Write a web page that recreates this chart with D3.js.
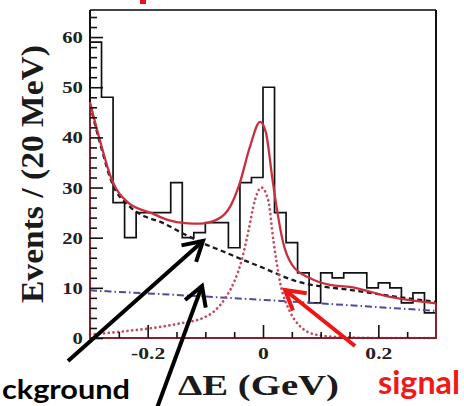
<!DOCTYPE html>
<html><head><meta charset="utf-8">
<script src="https://cdn.jsdelivr.net/npm/d3@7"></script>
<style>html,body{margin:0;padding:0;background:#fff;}svg{display:block;}</style>
</head><body>
<svg id="c" width="464" height="406"></svg>
<script>
// ---- data ----
const binLow = [-0.30,-0.28,-0.26,-0.24,-0.22,-0.20,-0.18,-0.16,-0.14,-0.12,-0.10,-0.08,-0.06,-0.04,-0.02,
                 0.00, 0.02, 0.04, 0.06, 0.08, 0.10, 0.12, 0.14, 0.16, 0.18, 0.20, 0.22, 0.24, 0.26, 0.28];
const binWidth = 0.02;
const counts = [59,48,27,20,25,25,25,31,20,21,23,23,18,31,32,50,25,19,13,7,13,12,13,13,10,11,10,7,9,5];

// total fit (solid red)
const fitX = [-0.300,-0.283,-0.262,-0.234,-0.193,-0.164,-0.135,-0.110,-0.080,-0.057,-0.040,-0.023,-0.005,0.005,0.016,0.023,0.035,0.051,0.082,0.116,0.151,0.220,0.300];
const fitY = [47,39.5,31.5,27,24.9,23.5,22.9,22.8,23.6,26.2,31,38,43.1,41,32,26.5,19,14.5,11.9,10.6,10.2,8.2,6.9];
// total background (black dashed)
const bkgX = [-0.300,-0.283,-0.262,-0.231,-0.200,-0.179,-0.140,-0.104,-0.070,-0.035,0.000,0.024,0.058,0.100,0.151,0.220,0.300];
const bkgY = [46.5,39,31,26.2,24,23.2,20.9,18.9,17.3,15.6,14.0,12.8,11.3,10.3,9.6,8.4,7.2];
// signal (red dotted)
const sigX = [-0.300,-0.269,-0.220,-0.176,-0.140,-0.106,-0.085,-0.064,-0.050,-0.037,-0.025,-0.014,-0.003,0.009,0.018,0.030,0.047,0.062,0.076,0.100,0.140,0.200,0.300];
const sigY = [0.7,1.0,1.6,2.25,3.0,3.9,5.3,8.2,11.2,15.5,21.5,27.5,30.0,27.5,19.5,10.9,5.2,2.6,1.3,0.5,0.15,0.0,0.0];
// second background component (blue dash-dot)
const bbX = [-0.300,0.000,0.300];
const bbY = [9.5,7.6,5.4];

const yMajor = [0,10,20,30,40,50,60];
const yMinor = [2,4,6,8,12,14,16,18,22,24,26,28,32,34,36,38,42,44,46,48,52,54,56,58,62,64];
const xMajor = [-0.2,0,0.2];
const xMajorLabels = ["-0.2","0","0.2"];
const xMinor = [-0.25,-0.15,-0.1,-0.05,0.05,0.1,0.15,0.25];

const yTitle = "Events / (20 MeV)";
const xTitle = "\u0394E (GeV)";

// ---- drawing ----
const svg = d3.select("#c");
const x = d3.scaleLinear().domain([-0.3,0.3]).range([90,436]);
const y = d3.scaleLinear().domain([0,65.4]).range([338,10]);
const serif = "'Liberation Serif','DejaVu Serif',serif";
const sans = "Lato,'Open Sans','Liberation Sans',sans-serif";

// small red fragment of a cut-off title at the top
svg.append("rect").attr("x",140).attr("y",0).attr("width",6).attr("height",4).attr("fill","#e8141a");

// frame
svg.append("line").attr("x1",x(-0.3)).attr("x2",x(0.3)).attr("y1",y(65.4)).attr("y2",y(65.4))
   .attr("stroke","#444").attr("stroke-width",2.2);
svg.append("line").attr("x1",x(0.3)).attr("x2",x(0.3)).attr("y1",y(65.4)).attr("y2",y(0))
   .attr("stroke","#111").attr("stroke-width",2);
svg.append("line").attr("x1",x(-0.3)).attr("x2",x(-0.3)).attr("y1",y(65.4)).attr("y2",y(0))
   .attr("stroke","#111").attr("stroke-width",2);
svg.append("line").attr("x1",x(-0.3)).attr("x2",x(0.3)).attr("y1",y(0)).attr("y2",y(0))
   .attr("stroke","#111").attr("stroke-width",2);

// histogram
const histData = binLow.map((lo,i)=>({x:lo, v:counts[i]}));
histData.push({x:binLow[binLow.length-1]+binWidth, v:counts[counts.length-1]});
svg.append("path").datum(histData)
   .attr("d", d3.line().x(d=>x(d.x)).y(d=>y(d.v)).curve(d3.curveStepAfter))
   .attr("fill","none").attr("stroke","#111").attr("stroke-width",1.7);

const zip = (a,b)=>a.map((v,i)=>[v,b[i]]);
const curve = d3.line().x(d=>x(d[0])).y(d=>y(d[1])).curve(d3.curveMonotoneX);

svg.append("path").datum(zip(bbX,bbY)).attr("d",curve)
   .attr("fill","none").attr("stroke","#4b4b9b").attr("stroke-width",2)
   .attr("stroke-dasharray","7,3,1.5,3");
svg.append("path").datum(zip(bkgX,bkgY)).attr("d",curve)
   .attr("fill","none").attr("stroke","#1a1a1a").attr("stroke-width",2.3)
   .attr("stroke-dasharray","5,3.5");
svg.append("path").datum(zip(sigX,sigY)).attr("d",curve)
   .attr("fill","none").attr("stroke","#c44a5c").attr("stroke-width",2.7)
   .attr("stroke-linecap","round").attr("stroke-dasharray","0.1,4.6");
// total fit, closed along the frame like the original
const fitPts = zip(fitX,fitY);
const closed = [[0.3,0],[-0.3,0]];
svg.append("path")
   .attr("d", "M"+x(0.3)+","+y(fitY[fitY.length-1])+"L"+x(closed[0][0])+","+y(closed[0][1])+
              "L"+x(closed[1][0])+","+y(closed[1][1])+"L"+x(fitX[0])+","+y(fitY[0]))
   .attr("fill","none").attr("stroke","#8a1f2e").attr("stroke-width",2);
svg.append("path").datum(fitPts).attr("d",curve)
   .attr("fill","none").attr("stroke","#c9303f").attr("stroke-width",2.3);

// axes (inward ticks)
function styleAxis(g){ g.select(".domain").remove(); g.selectAll("line").attr("stroke","#111").attr("stroke-width",1.6); }
svg.append("g").attr("transform","translate("+x(-0.3)+",0)")
   .call(d3.axisLeft(y).tickValues(yMinor).tickSize(-7).tickFormat(""))
   .call(styleAxis);
const ya = svg.append("g").attr("transform","translate("+x(-0.3)+",0)")
   .call(d3.axisLeft(y).tickValues(yMajor).tickSize(-13).tickPadding(6).tickFormat(d=>String(d)))
   .call(styleAxis);
ya.selectAll("text").attr("font-family",serif).attr("font-weight","bold").attr("font-size",17.5)
  .attr("fill","#222").attr("transform","scale(1.18,1)");
svg.append("g").attr("transform","translate(0,"+y(0)+")")
   .call(d3.axisBottom(x).tickValues(xMinor).tickSize(-6).tickFormat(""))
   .call(styleAxis);
const xa = svg.append("g").attr("transform","translate(0,"+y(0)+")")
   .call(d3.axisBottom(x).tickValues(xMajor).tickSize(-13).tickPadding(10).tickFormat((d,i)=>xMajorLabels[i]))
   .call(styleAxis);
xa.selectAll("text").attr("font-family",serif).attr("font-weight","bold").attr("font-size",16)
  .attr("fill","#222").attr("transform","scale(1.35,1)");

// axis titles
svg.append("text").attr("transform","translate(43,174) rotate(-90)")
   .attr("text-anchor","middle").attr("font-family",serif).attr("font-weight","bold")
   .attr("font-size",32).attr("fill","#1a1a1a")
   .attr("textLength",258).attr("lengthAdjust","spacingAndGlyphs").text(yTitle);
svg.append("text").attr("x",178).attr("y",395)
   .attr("font-family",serif).attr("font-weight","bold").attr("font-size",29).attr("fill","#1a1a1a")
   .attr("textLength",161).attr("lengthAdjust","spacingAndGlyphs").text(xTitle);

// annotations
function arrow(x1,y1,x2,y2,color){
  const dx=x2-x1, dy=y2-y1, L=Math.hypot(dx,dy), ux=dx/L, uy=dy/L, px=-uy, py=ux;
  const bx=x2-ux*19, by=y2-uy*19;
  svg.append("line").attr("x1",x1).attr("y1",y1).attr("x2",x2).attr("y2",y2)
     .attr("stroke",color).attr("stroke-width",4);
  svg.append("path").attr("d","M"+(bx+px*11)+","+(by+py*11)+"L"+x2+","+y2+"L"+(bx-px*11)+","+(by-py*11))
     .attr("fill","none").attr("stroke",color).attr("stroke-width",4).attr("stroke-linejoin","miter");
}
arrow(68,361,203,241,"#000");
arrow(157,408,202,286,"#000");
arrow(355,346,285,290,"#ee1515");

svg.append("text").attr("x",2).attr("y",399).attr("font-family",sans).attr("font-weight","bold")
   .attr("font-size",27).attr("fill","#000").attr("textLength",128).attr("lengthAdjust","spacingAndGlyphs")
   .text("ckground");
svg.append("text").attr("x",378).attr("y",394).attr("font-family",sans).attr("font-weight","bold")
   .attr("font-size",32).attr("fill","#f01818").attr("textLength",82).attr("lengthAdjust","spacingAndGlyphs")
   .text("signal");
</script>
</body></html>
